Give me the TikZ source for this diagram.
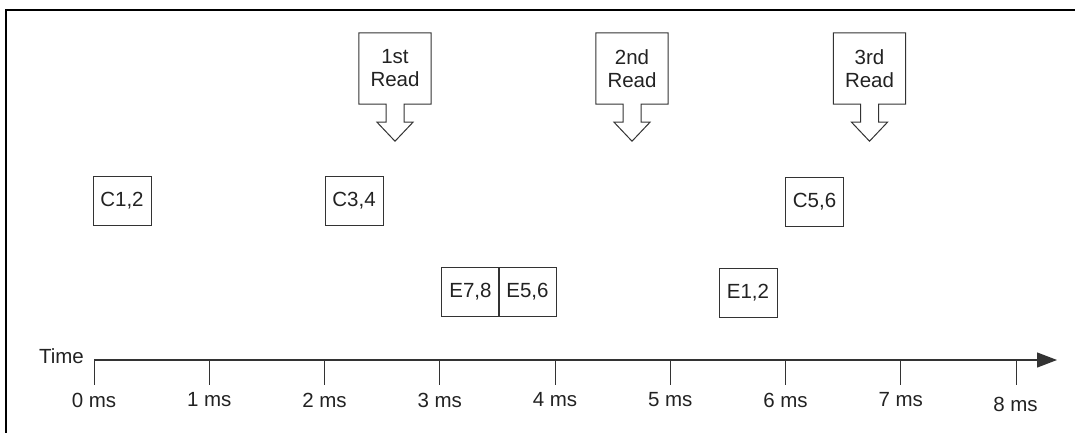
\documentclass[tikz,border=0pt]{standalone}
\usepackage{fontspec}
\setmainfont{Liberation Sans}
\usetikzlibrary{arrows.meta,calc}
\definecolor{ink}{HTML}{222222}
\definecolor{linec}{HTML}{333333}
\begin{document}
\begin{tikzpicture}[x=1pt,y=-1pt,
  lbl/.style={font=\fontsize{20.5}{23}\selectfont, text=ink},
  evbox/.style={lbl, draw=linec, line width=1pt, minimum width=58pt, minimum height=49pt, inner sep=0pt},
  readbox/.style={lbl, minimum width=72pt, minimum height=71pt, align=center, inner sep=0pt},
  outline/.style={draw=linec, line width=1pt, line join=miter},
  frameline/.style={draw=black, line width=2pt},
  axisline/.style={draw=linec, line width=1.2pt},
  tickline/.style={draw=linec, line width=1pt},
]
\useasboundingbox (0,0) rectangle (1075,433);
% frame
\coordinate (ftr) at (1075,10);
\coordinate (ftl) at (6,10);
\coordinate (fbl) at (6,433);
\draw[frameline] (ftr) -- (ftl) -- (fbl);

% read callouts
\foreach \nm/\cx/\txt in {r1/395/{1st\\Read}, r2/632/{2nd\\Read}, r3/869.5/{3rd\\Read}}{
  \node[readbox] (\nm) at (\cx,68.5) {\txt};
  \draw[outline] (\nm.south east) -- ($(\nm.south)+(9,0)$) -- ++(0,18) -- ++(9,0)
     -- ($(\nm.south)+(0,37)$) -- ++(-18,-19) -- ++(9,0) -- ++(0,-18)
     -- (\nm.south west) -- (\nm.north west) -- (\nm.north east) -- cycle;
}

% event boxes
\node[evbox] (c12) at (122,200.5) {C1,2};
\node[evbox] (c34) at (354,200.5) {C3,4};
\node[evbox] (c56) at (814.5,201.5) {C5,6};
\node[evbox] (e78) at (470.5,292) {E7,8};
\node[evbox] (e56) at (527.5,292) {E5,6};
\node[evbox] (e12) at (748,293) {E1,2};

% axis
\coordinate (a0) at (94,360);
\coordinate (aend) at (1057,360);
\draw[axisline, -{Triangle[length=20pt,width=15pt]}] (a0) -- (aend);
\node[lbl, anchor=east, inner sep=0pt] (time) at (84,356) {Time};
\foreach \i in {0,...,7}{
  \coordinate (t\i) at ({94+115.25*\i},360);
  \draw[tickline] (t\i) -- ++(0,25);
  \node[lbl, inner sep=0pt] (l\i) at ({94+115.25*\i},400) {\i\ ms};
}
\coordinate (t8) at (1016,360);
\draw[tickline] (t8) -- ++(0,25);
\node[lbl, inner sep=0pt] (l8) at (1015.5,404) {8 ms};
\end{tikzpicture}
\end{document}
